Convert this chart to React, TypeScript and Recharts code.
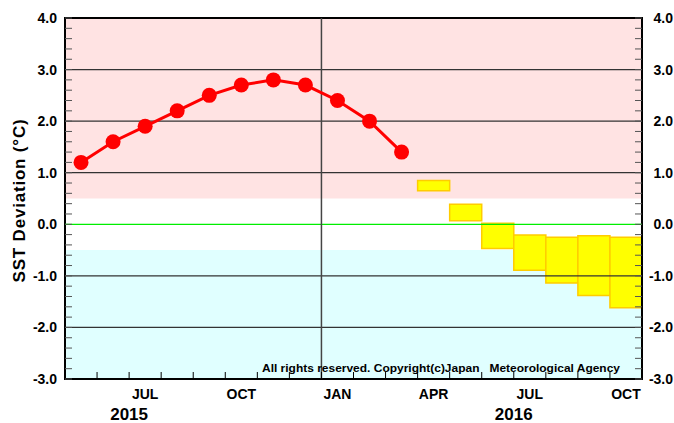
import React from "react";
import {
  ComposedChart,
  Line,
  XAxis,
  YAxis,
  ReferenceArea,
  ReferenceLine,
} from "recharts";

// months shown on the x axis, May 2015 .. Oct 2016
const monthNames = [
  "MAY", "JUN", "JUL", "AUG", "SEP", "OCT", "NOV", "DEC",
  "JAN", "FEB", "MAR", "APR", "MAY", "JUN", "JUL", "AUG", "SEP", "OCT",
];
const labeledMonths = ["JUL", "OCT", "JAN", "APR"];
// year labels sit on month boundaries (index = boundary number)
const yearLabels: Record<number, string> = { 2: "2015", 14: "2016" };

// observed SST deviation, May 2015 .. Mar 2016
const observed = [1.2, 1.6, 1.9, 2.2, 2.5, 2.7, 2.8, 2.7, 2.4, 2.0, 1.4];

// forecast range boxes, Apr 2016 .. Oct 2016
const forecastStart = 11;
const forecastLow = [0.65, 0.07, -0.47, -0.89, -1.14, -1.38, -1.62];
const forecastHigh = [0.85, 0.39, 0.02, -0.21, -0.25, -0.22, -0.25];

const gridValues = [-2, -1, 1, 2, 3];
const yMin = -3;
const yMax = 4;

const W = 674;
const H = 423;
const LEFT = 65;
const RIGHT_W = 32;
const TOP = 18;
const BOTTOM_H = 44;
const PLOT_W = W - LEFT - RIGHT_W;
const MONTH_W = PLOT_W / monthNames.length;

const FONT = '"Liberation Sans", Arial, Helvetica, sans-serif';
const COPYRIGHT = "All rights reserved. Copyright(c)Japan   Meteorological Agency";

const yTicks: number[] = [];
for (let k = 0; k <= 35; k++) yTicks.push(Math.round((yMin + k * 0.2) * 10) / 10);
const xTicks = monthNames.map((_, i) => i).concat([monthNames.length]);

const rows = monthNames.map((m, i) => ({
  x: i + 0.5,
  obs: i < observed.length ? observed[i] : null,
}));

const isMajor = (v: number) => Math.abs(v - Math.round(v)) < 1e-6;

// draws the inward ticks and labels for both the left and the right side
function SideTick(props: any) {
  const { x, y, payload } = props;
  const v = payload.value as number;
  const rx = x + PLOT_W;
  return (
    <g>
      <line x1={x} x2={x + 7} y1={y} y2={y} stroke="#555" strokeWidth={1} />
      <line x1={rx - 7} x2={rx} y1={y} y2={y} stroke="#555" strokeWidth={1} />
      {isMajor(v) && (
        <>
          <text x={x - 8} y={y + 5} textAnchor="end" fontFamily={FONT} fontWeight="bold" fontSize={14} fill="#000">
            {v.toFixed(1)}
          </text>
          <text x={rx + 31} y={y + 5} textAnchor="end" fontFamily={FONT} fontWeight="bold" fontSize={14} fill="#000">
            {v.toFixed(1)}
          </text>
        </>
      )}
    </g>
  );
}

function MonthTick(props: any) {
  const { x, y, payload } = props;
  const i = payload.value as number;
  const name = monthNames[i];
  const inner = i > 0 && i < monthNames.length;
  return (
    <g>
      {inner && <line x1={x} x2={x} y1={y} y2={y - 7} stroke="#000" strokeWidth={1} />}
      {name && labeledMonths.includes(name) && (
        <text x={x + MONTH_W / 2} y={y + 20} textAnchor="middle" fontFamily={FONT} fontWeight="bold" fontSize={14} fill="#000">
          {name}
        </text>
      )}
      {yearLabels[i] && (
        <text x={x} y={y + 41} textAnchor="middle" fontFamily={FONT} fontWeight="bold" fontSize={17} fill="#000">
          {yearLabels[i]}
        </text>
      )}
    </g>
  );
}

function YTitle(props: any) {
  const vb = props.viewBox || {};
  const cx = (vb.x ?? 0) + 19;
  const cy = (vb.y ?? 0) + (vb.height ?? 0) / 2 + 2;
  return (
    <text
      x={cx}
      y={cy}
      transform={`rotate(-90 ${cx} ${cy})`}
      textAnchor="middle"
      dominantBaseline="central"
      fontFamily={FONT}
      fontWeight="bold"
      fontSize={17}
      letterSpacing={0.8}
      fill="#000"
    >
      SST Deviation (°C)
    </text>
  );
}

function CopyrightLabel(props: any) {
  const vb = props.viewBox || {};
  const right = (vb.x ?? 0) + (vb.width ?? 0) - 22;
  const base = (vb.y ?? 0) - 7;
  return (
    <text
      x={right - 358}
      y={base}
      fontFamily={FONT}
      fontWeight="bold"
      fontSize={11}
      fill="#000"
      textLength={358}
      lengthAdjust="spacingAndGlyphs"
      style={{ whiteSpace: "pre" }}
    >
      {COPYRIGHT}
    </text>
  );
}

export default function App() {
  return (
    <div style={{ width: W, height: H, background: "#fff" }}>
      <style>{"body{margin:0}"}</style>
      <ComposedChart
        width={W}
        height={H}
        data={rows}
        margin={{ top: TOP, right: RIGHT_W, bottom: 0, left: 0 }}
      >
        <XAxis
          dataKey="x"
          type="number"
          domain={[0, monthNames.length]}
          ticks={xTicks}
          interval={0}
          height={BOTTOM_H}
          axisLine={false}
          tickLine={false}
          tickSize={0}
          tickMargin={0}
          tick={<MonthTick />}
        />
        <YAxis
          yAxisId="left"
          type="number"
          domain={[yMin, yMax]}
          ticks={yTicks}
          interval={0}
          width={LEFT}
          axisLine={false}
          tickLine={false}
          tickSize={0}
          tickMargin={0}
          tick={<SideTick />}
          label={{ content: <YTitle /> }}
        />
        <ReferenceArea yAxisId="left" x1={0} x2={monthNames.length} y1={0.5} y2={yMax} fill="#ffe3e3" fillOpacity={1} stroke="none" />
        <ReferenceArea yAxisId="left" x1={0} x2={monthNames.length} y1={yMin} y2={-0.5} fill="#e0ffff" fillOpacity={1} stroke="none" />
        {gridValues.map((g) => (
          <ReferenceLine key={g} yAxisId="left" y={g} stroke="#333" strokeWidth={1.2} />
        ))}
        <ReferenceLine yAxisId="left" y={0} stroke="#00ee00" strokeWidth={1.2} />
        <ReferenceLine yAxisId="left" x={8} stroke="#444" strokeWidth={1.5} />
        {forecastLow.map((lo, k) => (
          <ReferenceArea
            key={k}
            yAxisId="left"
            x1={forecastStart + k}
            x2={forecastStart + k + 1}
            y1={lo}
            y2={forecastHigh[k]}
            fill="#ffff00"
            fillOpacity={1}
            stroke="#ffcc00"
            strokeWidth={1.5}
          />
        ))}
        <ReferenceLine
          yAxisId="left"
          y={yMin}
          stroke="none"
          label={{ content: <CopyrightLabel /> }}
        />
        <Line
          yAxisId="left"
          dataKey="obs"
          type="linear"
          stroke="#ff0000"
          strokeWidth={3}
          dot={{ r: 7.5, fill: "#ff0000", stroke: "none" }}
          activeDot={false}
          connectNulls={false}
          isAnimationActive={false}
        />
        <ReferenceArea
          yAxisId="left"
          x1={0}
          x2={monthNames.length}
          y1={yMin}
          y2={yMax}
          fill="none"
          stroke="#000"
          strokeWidth={2}
        />
      </ComposedChart>
    </div>
  );
}
